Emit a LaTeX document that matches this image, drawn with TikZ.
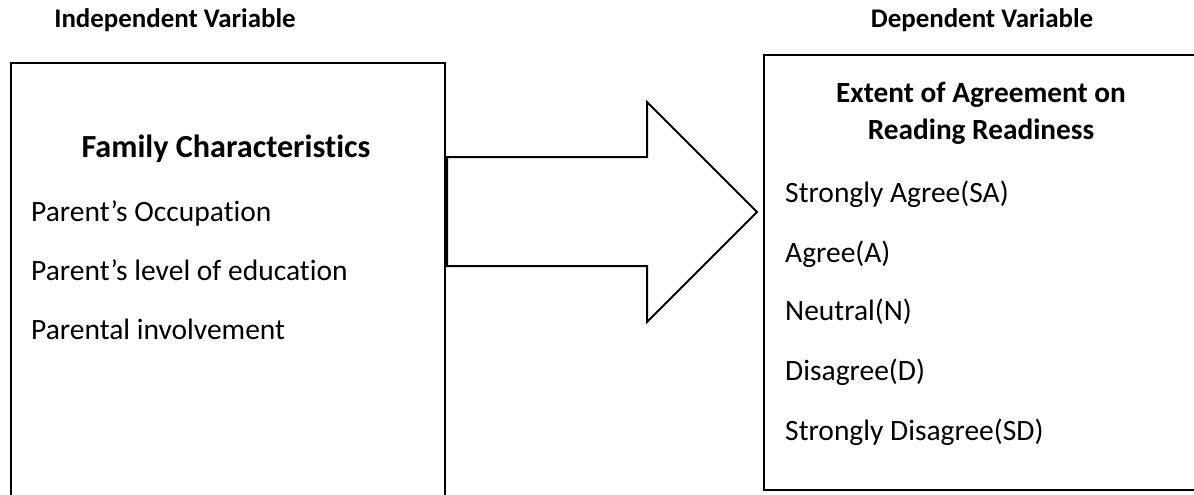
\documentclass[tikz,border=0pt]{standalone}
\usepackage{fontspec}
\setmainfont[Ligatures=NoCommon]{Carlito}
\begin{document}
\begin{tikzpicture}[x=1pt,y=-1pt,
  box/.style={draw=black, line width=2pt, inner sep=0pt, anchor=north west},
  item/.style={anchor=base west, inner sep=0pt, font=\fontsize{29.5}{34}\selectfont},
  title/.style={anchor=base, inner sep=0pt, font=\bfseries\fontsize{32.2}{38}\selectfont},
  subtitle/.style={anchor=base, inner sep=0pt, font=\bfseries\fontsize{29.3}{34}\selectfont},
  varlabel/.style={anchor=base, inner sep=0pt, font=\bfseries\fontsize{26.9}{31}\selectfont},
  bigarrow/.style={draw=black, fill=white, line width=2pt, line join=miter}]
\clip (0,0) rectangle (1194,495);
\fill[white] (0,0) rectangle (1194,495);
% boxes
\node[box, minimum width=434pt, minimum height=460pt] (ivbox) at (9.5,62) {};
\node[box, minimum width=460pt, minimum height=435pt] (dvbox) at (763,54) {};
% arrow
\draw[bigarrow] (447,157) -- (647,157) -- (647,102) -- (757,212) -- (647,322) -- (647,266) -- (447,266) -- cycle;
% top labels
\node[varlabel] (ivlabel) at (175,28) {Independent Variable};
\node[varlabel] (dvlabel) at (982,28) {Dependent Variable};
% left box texts
\node[title] (famchar) at (226,157) {Family Characteristics};
\node[item] (occ) at (31,221) {Parent’s Occupation};
\node[item] (edu) at (31,280) {Parent’s level of education};
\node[item] (inv) at (31,339) {Parental involvement};
% right box texts
\node[subtitle] (ext1) at (981,102) {Extent of Agreement on};
\node[subtitle] (ext2) at (981,139) {Reading Readiness};
\node[item] (sa) at (785,202) {Strongly Agree(SA)};
\node[item] (ag) at (785,262) {Agree(A)};
\node[item] (ne) at (785,320) {Neutral(N)};
\node[item] (di) at (785,380) {Disagree(D)};
\node[item] (sd) at (785,440) {Strongly Disagree(SD)};
\end{tikzpicture}
\end{document}
